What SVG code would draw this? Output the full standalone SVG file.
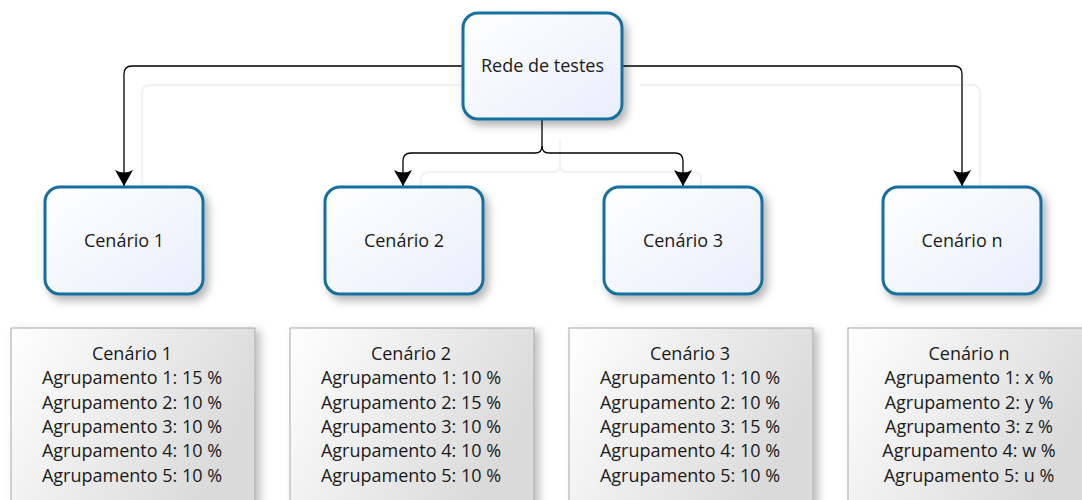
<svg xmlns="http://www.w3.org/2000/svg" width="1082" height="500" viewBox="0 0 1082 500">
<style>
.node rect{fill:url(#ng);stroke:#17709f;stroke-width:3;filter:url(#sh)}
.t{font-family:"Open Sans","Noto Sans","DejaVu Sans",sans-serif;font-size:18px;fill:#1a1a1a;text-anchor:middle}
.note rect{fill:url(#gg);stroke:#a8a8a8;stroke-width:1;filter:url(#sh2)}
.conn path{fill:none;stroke:#000;stroke-width:1.3}
.ghost path{fill:none;stroke:#f2f2f2;stroke-width:2}
</style>
<defs>
<linearGradient id="ng" x1="0" y1="0" x2="1" y2="1"><stop offset="0" stop-color="#ffffff"/><stop offset="1" stop-color="#e9eefb"/></linearGradient>
<linearGradient id="gg" x1="0" y1="0" x2="1" y2="0.4"><stop offset="0" stop-color="#ffffff"/><stop offset="1" stop-color="#dadada"/></linearGradient>
<filter id="sh" x="-20%" y="-20%" width="150%" height="150%"><feDropShadow dx="4" dy="5" stdDeviation="4" flood-color="#000" flood-opacity="0.3"/></filter>
<filter id="sh2" x="-20%" y="-20%" width="150%" height="150%"><feDropShadow dx="5" dy="3" stdDeviation="4" flood-color="#000" flood-opacity="0.25"/></filter>
<marker id="ar" markerUnits="userSpaceOnUse" markerWidth="20" markerHeight="20" refX="16" refY="9" orient="auto" viewBox="0 0 20 18"><path d="M16,9 L0,0 Q5,9 0,18 Z" fill="#000"/></marker>
</defs>
<g id="connector-shadows" class="ghost" transform="translate(18,19)">
<path d="M463,66 H132 Q124,66 124,74 V186"/>
<path d="M622,66 H954 Q962,66 962,74 V186"/>
<path d="M542,120 V146 Q542,153 535,153 H411 Q403,153 403,161 V186"/>
<path d="M542,146 Q542,153 549,153 H675 Q683,153 683,161 V186"/>
</g>
<g id="connectors" class="conn">
<path d="M463,66 H132 Q124,66 124,74 V186" marker-end="url(#ar)"/>
<path d="M622,66 H954 Q962,66 962,74 V186" marker-end="url(#ar)"/>
<path d="M542,120 V146 Q542,153 535,153 H411 Q403,153 403,161 V186" marker-end="url(#ar)"/>
<path d="M542,146 Q542,153 549,153 H675 Q683,153 683,161 V186" marker-end="url(#ar)"/>
</g>
<g id="rede" class="node"><rect x="463" y="13" width="159" height="106" rx="15"/><text class="t" x="542.5" y="72">Rede de testes</text></g>
<g id="c1" class="node"><rect x="45" y="187" width="158" height="107" rx="15"/><text class="t" x="124" y="247">Cenário 1</text></g>
<g id="c2" class="node"><rect x="325" y="187" width="158" height="107" rx="15"/><text class="t" x="404" y="247">Cenário 2</text></g>
<g id="c3" class="node"><rect x="604" y="187" width="158" height="107" rx="15"/><text class="t" x="683" y="247">Cenário 3</text></g>
<g id="cn" class="node"><rect x="883" y="187" width="158" height="107" rx="15"/><text class="t" x="962" y="247">Cenário n</text></g>
<g id="n1" class="note"><rect x="11" y="328" width="244" height="180"/>
<text class="t" x="132" y="360">Cenário 1</text><text class="t" x="132" y="384">Agrupamento 1: 15 %</text><text class="t" x="132" y="409">Agrupamento 2: 10 %</text><text class="t" x="132" y="433">Agrupamento 3: 10 %</text><text class="t" x="132" y="457">Agrupamento 4: 10 %</text><text class="t" x="132" y="482">Agrupamento 5: 10 %</text></g>
<g id="n2" class="note"><rect x="290" y="328" width="244" height="180"/>
<text class="t" x="411" y="360">Cenário 2</text><text class="t" x="411" y="384">Agrupamento 1: 10 %</text><text class="t" x="411" y="409">Agrupamento 2: 15 %</text><text class="t" x="411" y="433">Agrupamento 3: 10 %</text><text class="t" x="411" y="457">Agrupamento 4: 10 %</text><text class="t" x="411" y="482">Agrupamento 5: 10 %</text></g>
<g id="n3" class="note"><rect x="569" y="328" width="244" height="180"/>
<text class="t" x="690" y="360">Cenário 3</text><text class="t" x="690" y="384">Agrupamento 1: 10 %</text><text class="t" x="690" y="409">Agrupamento 2: 10 %</text><text class="t" x="690" y="433">Agrupamento 3: 15 %</text><text class="t" x="690" y="457">Agrupamento 4: 10 %</text><text class="t" x="690" y="482">Agrupamento 5: 10 %</text></g>
<g id="nn" class="note"><rect x="848" y="328" width="244" height="180"/>
<text class="t" x="969" y="360">Cenário n</text><text class="t" x="969" y="384">Agrupamento 1: x %</text><text class="t" x="969" y="409">Agrupamento 2: y %</text><text class="t" x="969" y="433">Agrupamento 3: z %</text><text class="t" x="969" y="457">Agrupamento 4: w %</text><text class="t" x="969" y="482">Agrupamento 5: u %</text></g>
</svg>
